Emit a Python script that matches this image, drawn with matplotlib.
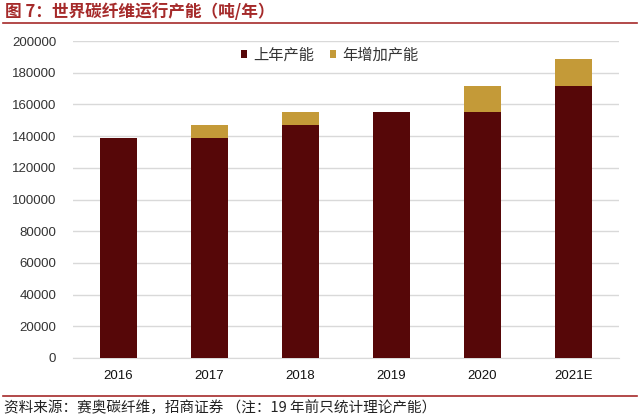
import matplotlib
matplotlib.use("Agg")
import matplotlib.pyplot as plt
import numpy as np

plt.rcParams['font.family'] = ['Liberation Sans', 'Noto Sans CJK SC', 'DejaVu Sans']

# data
years = ["2016", "2017", "2018", "2019", "2020", "2021E"]
prev_capacity = [139000, 139000, 147000, 155000, 155000, 171500]
added_capacity = [0, 8000, 8000, 0, 16500, 17500]
y_ticks = [0, 20000, 40000, 60000, 80000, 100000, 120000, 140000, 160000, 180000, 200000]

dark_red = "#560708"
gold = "#C49A38"
title_red = "#A52A2A"

fig = plt.figure(figsize=(6.4, 4.17), dpi=100)
ax = fig.add_axes([0.114, 0.1415, 0.853, 0.760])

x = np.arange(len(years))
ax.bar(x, prev_capacity, width=0.4, color=dark_red, label="上年产能", zorder=3)
ax.bar(x, added_capacity, width=0.4, bottom=prev_capacity, color=gold, label="年增加产能", zorder=3)

ax.set_xlim(-0.5, len(years) - 0.5)
ax.set_ylim(0, 200000)
ax.set_yticks(y_ticks)
ax.set_yticklabels([str(v) for v in y_ticks], fontsize=9.5, color="#333333")
ax.set_xticks(x)
ax.set_xticklabels(years, fontsize=9.5, color="#111111")
ax.tick_params(axis="both", length=0)
ax.tick_params(axis="y", pad=12)
ax.tick_params(axis="x", pad=9)
ax.grid(axis="y", color="#D9D9D9", linewidth=1, zorder=0)
for s in ["top", "right", "left"]:
    ax.spines[s].set_visible(False)
ax.spines["bottom"].set_color("#D9D9D9")

leg = ax.legend(loc="center", bbox_to_anchor=(0.47, 0.956), ncol=2, frameon=False,
                handlelength=0.4, handleheight=0.4, handletextpad=0.4, columnspacing=1.0,
                prop={"family": ["Noto Sans CJK SC"], "size": 11})
for t in leg.get_texts():
    t.set_color("#333333")

# header and footer
fig.text(0.008, 0.972, "图 7：世界碳纤维运行产能（吨/年）", fontsize=12, fontweight="bold",
         color=title_red, family=["Noto Sans CJK SC"], va="center", ha="left")
fig.add_artist(plt.Line2D([0.005, 0.995], [0.945, 0.945], color=title_red, linewidth=1.2))
fig.add_artist(plt.Line2D([0.005, 0.995], [0.051, 0.051], color=title_red, linewidth=1.2))
fig.text(0.006, 0.022, "资料来源：赛奥碳纤维，招商证券 （注：19 年前只统计理论产能）", fontsize=10.5,
         color="#222222", family=["Noto Sans CJK SC", "DejaVu Sans"], va="center", ha="left")

fig.savefig("out.png", dpi=100)
